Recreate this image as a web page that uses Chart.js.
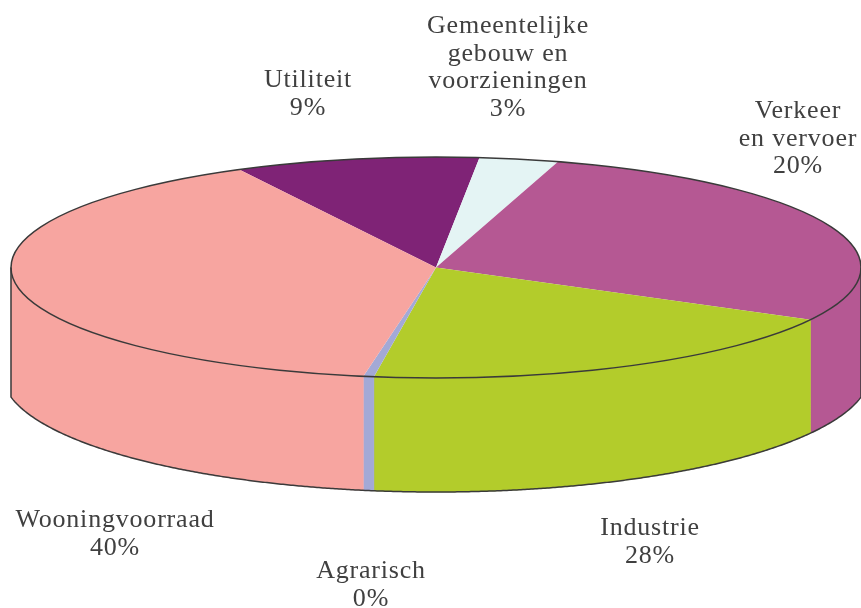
<!DOCTYPE html>
<html>
<head>
<meta charset="utf-8">
<style>html,body{margin:0;padding:0;background:#fff}canvas{display:block}</style>
<script src="https://cdn.jsdelivr.net/npm/chart.js@4"></script>
</head>
<body>
<canvas id="c" width="861" height="608"></canvas>
<script>
// Slice names and the percentages printed beside them
const categories = ['Utiliteit', 'Gemeentelijke gebouw en voorzieningen', 'Verkeer en vervoer', 'Industrie', 'Agrarisch', 'Wooningvoorraad'];
const printedLabels = ['9%', '3%', '20%', '28%', '0%', '40%'];
const sliceShares = [9.3, 3.0, 28.2, 19.5, 0.4, 39.6];
const sliceColors = ['#7F2376', '#E4F4F4', '#B55893', '#B3CC2B', '#A3A9D6', '#F7A5A0'];
const labelLines = [
  ['Utiliteit'],
  ['Gemeentelijke', 'gebouw en', 'voorzieningen'],
  ['Verkeer', 'en vervoer'],
  ['Industrie'],
  ['Agrarisch'],
  ['Wooningvoorraad']
];

// Layout of the tilted disc and of the labels
const TOP = {x: 436, y: 267.5, rx: 425, ry: 110.5};
const BOTTOM = {x: 436, y: 373, rx: 434, ry: 119};
const LABEL_POS = [[308, 87], [508, 33], [798, 118], [650, 535], [371, 578], [115, 527]];
const LINE_H = 27.6;
const INK = '#3A3A3A';

function bottomY(x) {
  const d = (x - BOTTOM.x) / BOTTOM.rx;
  return BOTTOM.y + BOTTOM.ry * Math.sqrt(Math.max(0, 1 - d * d));
}

function drawSides(ctx, arcs) {
  arcs.forEach((arc, i) => {
    const {startAngle, endAngle} = arc.getProps(['startAngle', 'endAngle'], true);
    for (let k = -1; k < 3; k++) {
      const lo = Math.max(startAngle, 2 * Math.PI * k);
      const hi = Math.min(endAngle, 2 * Math.PI * k + Math.PI);
      if (hi <= lo) continue;
      const steps = Math.max(2, Math.ceil((hi - lo) * 120));
      const xs = [];
      ctx.beginPath();
      for (let s = 0; s <= steps; s++) {
        const a = lo + (hi - lo) * s / steps;
        const x = TOP.x + TOP.rx * Math.cos(a);
        xs.push(x);
        ctx.lineTo(x, TOP.y + TOP.ry * Math.sin(a));
      }
      for (let s = steps; s >= 0; s--) ctx.lineTo(xs[s], bottomY(xs[s]));
      ctx.closePath();
      ctx.fillStyle = sliceColors[i];
      ctx.strokeStyle = sliceColors[i];
      ctx.lineWidth = 0.5;
      ctx.fill();
      ctx.stroke();
    }
  });
}

function drawOutlines(ctx) {
  ctx.strokeStyle = INK;
  ctx.lineWidth = 1.5;
  ctx.beginPath();
  ctx.ellipse(TOP.x, TOP.y, TOP.rx, TOP.ry, 0, 0, 2 * Math.PI);
  ctx.stroke();
  const left = TOP.x - TOP.rx, right = TOP.x + TOP.rx;
  ctx.beginPath();
  ctx.moveTo(left, TOP.y);
  for (let x = left; x <= right; x += 2) ctx.lineTo(x, bottomY(x));
  ctx.lineTo(right, bottomY(right));
  ctx.lineTo(right, TOP.y);
  ctx.stroke();
}

function drawLabels(ctx) {
  ctx.fillStyle = '#404040';
  ctx.font = '26px "Liberation Serif"';
  ctx.textAlign = 'center';
  ctx.textBaseline = 'alphabetic';
  if ('letterSpacing' in ctx) ctx.letterSpacing = '0.8px';
  labelLines.forEach((lines, i) => {
    const [x, y] = LABEL_POS[i];
    [...lines, printedLabels[i]].forEach((t, j) => ctx.fillText(t, x, y + j * LINE_H));
  });
}

const discPlugin = {
  id: 'disc',
  beforeDatasetDraw(chart) {
    const ctx = chart.ctx, arcs = chart.getDatasetMeta(0).data;
    drawSides(ctx, arcs);
    const a = arcs[0];
    ctx.save();
    ctx.translate(TOP.x, TOP.y);
    ctx.scale(TOP.rx / a.outerRadius, TOP.ry / a.outerRadius);
    ctx.translate(-a.x, -a.y);
  },
  afterDatasetDraw(chart) {
    const ctx = chart.ctx;
    ctx.restore();
    drawOutlines(ctx);
    drawLabels(ctx);
  }
};

new Chart(document.getElementById('c'), {
  type: 'pie',
  data: {
    labels: categories,
    datasets: [{data: sliceShares, backgroundColor: sliceColors, borderWidth: 0, hoverOffset: 0}]
  },
  options: {
    responsive: false,
    animation: false,
    rotation: 332.4,
    layout: {padding: 0},
    plugins: {legend: {display: false}, tooltip: {enabled: false}}
  },
  plugins: [discPlugin]
});
</script>
</body>
</html>
